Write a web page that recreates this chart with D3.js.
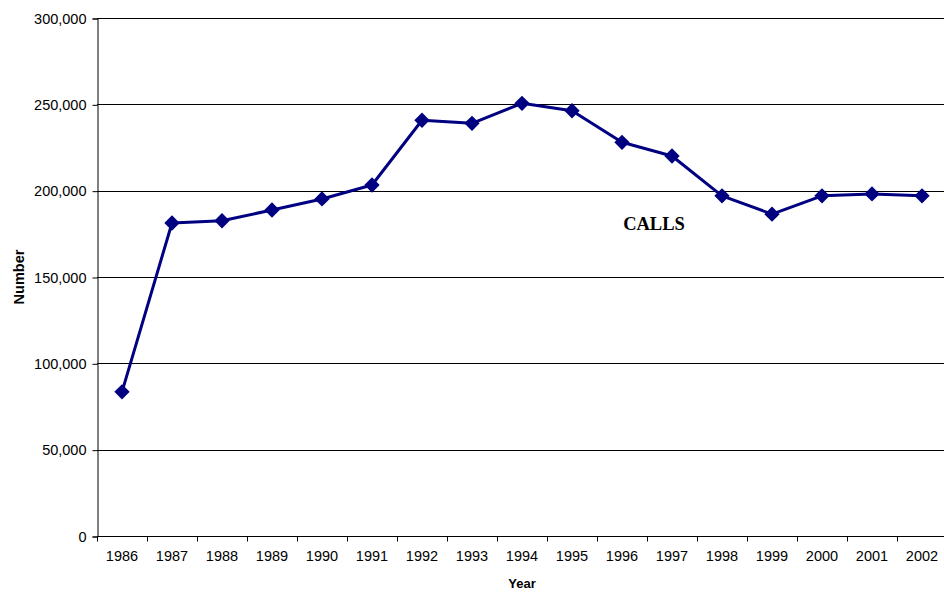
<!DOCTYPE html>
<html>
<head>
<meta charset="utf-8">
<script src="https://cdn.jsdelivr.net/npm/d3@7"></script>
<style>
  body { margin: 0; background: #fff; }
  svg text { font-family: "Liberation Sans", Arial, sans-serif; }
</style>
</head>
<body>
<div id="chart"></div>
<script>
  var years = ['1986', '1987', '1988', '1989', '1990', '1991', '1992', '1993', '1994',
               '1995', '1996', '1997', '1998', '1999', '2000', '2001', '2002'];
  var calls = [83500, 181300, 182600, 188800, 195200, 203300, 240800, 239000, 250600,
               246300, 228000, 220100, 197000, 186400, 197000, 198100, 197000];
  var yTicks = [0, 50000, 100000, 150000, 200000, 250000, 300000];
  var seriesLabel = 'CALLS';

  var width = 944, height = 594,
      plotLeft = 97, plotTop = 18, plotRight = 947, plotBottom = 536;

  var svg = d3.select('#chart').append('svg')
              .attr('width', width).attr('height', height);

  var x = d3.scaleBand().domain(years).range([plotLeft, plotRight]);
  var y = d3.scaleLinear().domain([0, 300000]).range([plotBottom, plotTop]);

  // gridlines
  svg.append('g')
    .selectAll('line').data(yTicks.slice(1)).enter().append('line')
      .attr('x1', plotLeft).attr('x2', plotRight)
      .attr('y1', function(d) { return Math.round(y(d)) + 0.5; })
      .attr('y2', function(d) { return Math.round(y(d)) + 0.5; })
      .attr('stroke', '#000').attr('stroke-width', 1);

  // y axis
  var yAxis = svg.append('g')
    .attr('transform', 'translate(' + (plotLeft + 0.5) + ',0.5)')
    .call(d3.axisLeft(y).tickValues(yTicks).tickSize(5).tickPadding(6)
            .tickFormat(d3.format(',')));
  yAxis.selectAll('text').attr('font-size', 14.5).attr('fill', '#000')
       .style('font-family', '"Liberation Sans", Arial, sans-serif');
  yAxis.selectAll('line, path').attr('stroke', '#000');

  // x axis: ticks on band boundaries
  var xAxis = svg.append('g').attr('transform', 'translate(0,' + (plotBottom + 0.5) + ')');
  xAxis.append('line').attr('x1', plotLeft).attr('x2', plotRight).attr('stroke', '#000');
  var bounds = years.map(function(d) { return x(d); }).concat([x(years[years.length - 1]) + x.bandwidth()]);
  xAxis.selectAll('.tk').data(bounds).enter().append('line')
    .attr('class', 'tk')
    .attr('x1', function(d) { return Math.round(d) + 0.5; })
    .attr('x2', function(d) { return Math.round(d) + 0.5; })
    .attr('y1', 0).attr('y2', 5).attr('stroke', '#000');
  xAxis.selectAll('text').data(years).enter().append('text')
    .attr('x', function(d) { return x(d) + x.bandwidth() / 2; })
    .attr('y', 24)
    .attr('text-anchor', 'middle').attr('font-size', 14.5)
    .text(function(d) { return d; });

  // axis titles
  svg.append('text')
    .attr('transform', 'translate(24,' + ((plotTop + plotBottom) / 2) + ') rotate(-90)')
    .attr('text-anchor', 'middle').attr('font-size', 14.5).attr('font-weight', 'bold')
    .text('Number');
  svg.append('text')
    .attr('x', 522).attr('y', 588)
    .attr('text-anchor', 'middle').attr('font-size', 13).attr('font-weight', 'bold')
    .text('Year');

  // series line
  var line = d3.line()
    .x(function(d, i) { return x(years[i]) + x.bandwidth() / 2; })
    .y(function(d) { return y(d); });

  svg.append('path')
    .datum(calls)
    .attr('d', line)
    .attr('fill', 'none')
    .attr('stroke', '#000080')
    .attr('stroke-width', 3)
    .attr('stroke-linejoin', 'round');

  svg.append('g')
    .selectAll('path').data(calls).enter().append('path')
      .attr('d', d3.symbol().type(d3.symbolDiamond2).size(150))
      .attr('transform', function(d, i) {
        return 'translate(' + (x(years[i]) + x.bandwidth() / 2) + ',' + y(d) + ')';
      })
      .attr('fill', '#000080');

  svg.append('text')
    .attr('x', 654).attr('y', 229.5)
    .attr('text-anchor', 'middle')
    .attr('font-size', 18.5).attr('font-weight', 'bold')
    .style('font-family', '"Liberation Serif", "Times New Roman", serif')
    .text(seriesLabel);
</script>
</body>
</html>
